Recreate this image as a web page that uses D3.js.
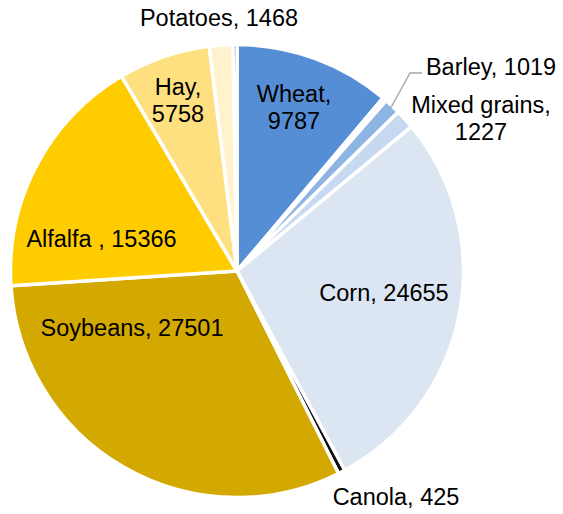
<!DOCTYPE html>
<html>
<head>
<meta charset="utf-8">
<script src="https://cdn.jsdelivr.net/npm/d3@7"></script>
<style>
  html, body { margin: 0; padding: 0; background: #fff; }
  svg { display: block; }
</style>
</head>
<body>
<svg id="chart" width="563" height="514"></svg>
<script>
// Crop areas, clockwise from 12 o'clock
const crops  = ["Wheat", "Oats", "Barley", "Mixed grains", "Corn", "Canola", "Soybeans", "Alfalfa ", "Hay", "Potatoes", "Other"];
const areas  = [9787, 250, 1019, 1227, 24655, 425, 27501, 15366, 5758, 1468, 250];
const fills  = ["#558ED5", "#DBE5F1", "#8DB4E2", "#C6D9F1", "#DCE6F2", "#0D0D0D", "#D3A800", "#FFCC00", "#FFE081", "#FFF2CC", "#4A7EC7"];
const labelled = ["Wheat", "Barley", "Mixed grains", "Corn", "Canola", "Soybeans", "Alfalfa ", "Hay", "Potatoes"];

// Where each label sits, and how its text breaks into lines
const labelSpots = {
  "Wheat":        { x: 294, y: 102, split: true },
  "Barley":       { x: 491, y: 75 },
  "Mixed grains": { x: 481, y: 113, split: true },
  "Corn":         { x: 384, y: 300.5 },
  "Canola":       { x: 396, y: 505 },
  "Soybeans":     { x: 132, y: 336 },
  "Alfalfa ":     { x: 101.5, y: 247 },
  "Hay":          { x: 178, y: 95, split: true },
  "Potatoes":     { x: 219, y: 25.5 }
};

const cx = 237, cy = 271, R = 226.5;
const lineGap = 27;

const svg = d3.select("#chart");
const g = svg.append("g").attr("transform", `translate(${cx},${cy})`);

const rows = crops.map((c, i) => ({ crop: c, value: areas[i], fill: fills[i] }));

const pie = d3.pie().sort(null).value(d => d.value);
const arc = d3.arc().innerRadius(0).outerRadius(R);
const arcs = pie(rows);

g.selectAll("path.slice")
  .data(arcs)
  .join("path")
  .attr("class", "slice")
  .attr("d", arc)
  .attr("fill", d => d.data.fill)
  .attr("stroke", "#fff")
  .attr("stroke-width", 3.5)
  .attr("stroke-linejoin", "round");

// Leader line for the Barley label
const barley = arcs.find(a => a.data.crop === "Barley");
const mid = (barley.startAngle + barley.endAngle) / 2;
const r0 = R - 2;
const p0 = [cx + r0 * Math.sin(mid), cy - r0 * Math.cos(mid)];
svg.append("polyline")
  .attr("points", [p0, [410, 73], [422, 73]].map(p => p.join(",")).join(" "))
  .attr("fill", "none")
  .attr("stroke", "#A6A6A6")
  .attr("stroke-width", 1.3);

// Labels
const fmt = d3.format("d");
arcs.filter(a => labelled.includes(a.data.crop)).forEach(a => {
  const spot = labelSpots[a.data.crop];
  const lines = spot.split
    ? [a.data.crop + ",", fmt(a.data.value)]
    : [a.data.crop + ", " + fmt(a.data.value)];
  const t = svg.append("text")
    .attr("x", spot.x)
    .attr("y", spot.y)
    .attr("text-anchor", "middle")
    .attr("font-family", "'Liberation Sans', Arial, sans-serif")
    .attr("font-size", "23.5px")
    .attr("fill", "#000");
  lines.forEach((ln, i) => {
    t.append("tspan").attr("x", spot.x).attr("y", spot.y + i * lineGap).text(ln);
  });
});
</script>
</body>
</html>
